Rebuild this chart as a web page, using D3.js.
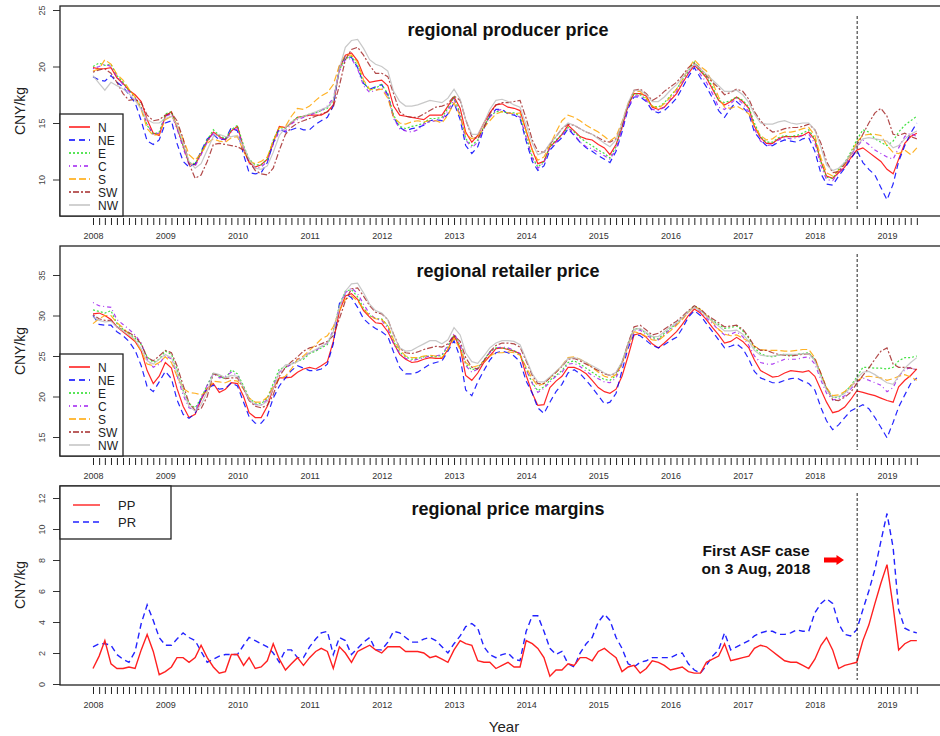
<!DOCTYPE html>
<html><head><meta charset="utf-8">
<script src="https://cdn.jsdelivr.net/npm/d3@7/dist/d3.min.js"></script>
<style>body{margin:0;background:#fff;} svg{display:block;font-family:Arial,"Liberation Sans",Helvetica,sans-serif;}</style>
</head><body><svg id="chart" width="940" height="736"></svg>
<script>
// ---------- categories ----------
const regions = ["N","NE","E","C","S","SW","NW"];
const yearLabels = [2008,2009,2010,2011,2012,2013,2014,2015,2016,2017,2018,2019];
const firstMonth = new Date(2008,0,1);   // Jan 2008
const lastMonthExclusive = new Date(2019,6,1); // through Jun 2019
const asfDate = new Date(2018,7,3);
const panelTitles = ["regional producer price","regional retailer price","regional price margins"];
const producerTicks = [10,15,20,25];
const retailTicks = [15,20,25,30,35];
const marginTicks = [0,2,4,6,8,10,12];
const marginSeries = ["PP","PR"];

// ---------- producer prices (CNY/kg), monthly Jan 2008 - Jun 2019 ----------
const producerN = [19.9,19.8,19.8,19.9,19.0,18.5,17.9,17.5,16.9,15.3,14.1,13.9,15.6,16.0,14.6,13.0,11.4,11.3,12.3,13.4,14.2,13.8,13.5,14.3,14.7,12.8,11.5,11.1,11.3,11.8,13.3,14.7,14.6,15.0,15.5,15.6,15.7,15.7,15.7,16.0,16.6,19.8,21.0,21.2,20.5,19.2,18.6,18.7,18.8,18.3,16.5,15.7,15.6,15.5,15.4,15.3,15.7,15.7,15.7,16.5,17.3,16.3,14.2,13.3,13.9,15.0,15.9,16.6,16.7,16.4,16.3,16.1,14.3,12.6,11.4,11.6,12.9,13.4,14.0,14.8,14.3,13.8,13.6,13.5,13.1,12.8,12.2,13.1,14.6,16.6,17.6,17.6,17.4,16.4,16.2,16.4,17.0,17.6,18.5,19.4,20.1,19.6,19.0,18.0,17.0,16.6,16.9,17.3,16.9,16.3,14.7,13.7,13.2,13.2,13.6,13.8,13.8,13.8,13.9,14.2,13.5,11.6,10.3,10.1,10.6,11.1,11.9,12.6,12.8,12.4,12.0,11.6,10.9,10.5,11.8,13.2,13.8,14.1];
const producerNE = [19.1,18.8,18.7,19.2,18.6,18.2,17.5,16.8,15.2,13.4,13.1,13.5,15.0,15.2,13.2,11.6,11.1,11.4,12.5,13.6,14.0,13.5,13.6,14.6,14.3,12.2,10.6,10.5,10.6,11.5,13.2,14.5,14.2,14.4,14.6,14.4,14.4,14.9,15.2,15.5,16.5,20.0,20.9,20.8,19.9,18.5,18.0,18.2,18.4,17.5,15.5,14.6,14.3,14.5,14.6,14.8,15.2,15.3,15.2,15.8,16.8,15.3,13.0,12.3,12.9,14.5,15.6,16.2,16.2,15.8,15.7,15.4,13.4,11.6,10.8,11.2,12.6,13.2,13.7,14.5,13.9,13.3,12.8,12.5,12.1,11.8,11.5,12.5,14.2,16.3,17.3,17.3,16.9,16.1,15.9,16.1,16.6,17.2,18.1,19.1,19.9,19.0,18.2,17.2,16.1,15.5,16.3,16.9,16.4,15.8,14.2,13.5,13.0,13.0,13.3,13.5,13.4,13.3,13.6,13.7,12.5,10.5,9.6,9.5,10.3,11.0,11.8,12.6,11.5,10.9,10.4,9.3,8.2,9.6,11.6,13.0,14.1,15.0];
const producerE = [20.0,20.3,20.1,20.2,19.2,18.6,17.9,17.3,16.4,14.8,14.0,14.2,15.8,16.0,14.7,13.0,11.5,11.4,12.4,13.5,14.4,13.9,13.6,14.4,14.8,13.0,11.8,11.3,11.3,11.8,13.5,14.6,14.5,15.1,15.5,15.6,15.8,15.9,16.1,16.3,17.0,19.7,20.7,20.9,20.1,18.6,17.9,18.1,18.4,17.6,15.7,14.7,14.5,14.7,14.8,15.0,15.4,15.4,15.5,16.3,17.3,15.8,13.6,13.0,13.5,14.7,15.6,16.0,16.0,15.9,15.9,15.6,13.8,12.0,11.1,11.6,12.9,13.5,14.0,14.6,14.2,13.7,13.3,13.0,12.6,12.3,11.9,12.9,14.8,16.7,17.6,17.5,17.1,16.5,16.4,16.8,17.4,18.0,18.8,19.6,20.4,19.6,19.1,18.2,17.0,16.8,17.0,17.3,17.0,16.4,15.0,13.8,13.3,13.3,13.7,13.9,13.8,13.9,14.1,14.4,13.6,11.5,10.2,10.1,10.9,11.5,12.4,13.5,14.4,14.2,13.6,13.3,13.0,13.4,14.2,14.8,15.2,15.6];
const producerC = [19.8,20.0,20.2,20.0,19.1,18.4,17.8,17.2,16.3,14.9,14.0,14.1,15.6,15.8,14.5,12.8,11.3,11.2,12.2,13.3,14.1,13.7,13.4,14.2,14.5,12.7,11.4,11.0,11.1,11.6,13.1,14.3,14.3,14.9,15.3,15.5,15.7,15.9,16.1,16.5,17.2,19.6,20.6,20.7,19.8,18.3,17.7,17.9,18.1,17.4,15.4,14.5,14.3,14.2,14.4,14.9,15.1,15.2,15.3,16.1,17.1,15.7,13.5,12.8,13.3,14.6,15.5,16.1,16.2,15.9,15.8,15.5,13.7,11.9,11.0,11.5,12.8,13.3,13.9,14.6,14.0,13.3,12.9,12.7,12.4,12.1,11.8,12.7,14.5,16.4,17.4,17.4,17.0,16.2,16.1,16.4,17.1,17.8,18.6,19.4,20.2,19.3,18.6,17.6,16.4,16.2,16.7,17.2,16.7,16.0,14.5,13.4,13.0,13.1,13.5,13.7,13.6,13.7,13.9,14.0,13.2,11.2,10.0,9.9,10.6,11.2,12.1,12.9,13.5,13.1,12.6,12.3,12.0,11.8,12.8,13.8,14.1,13.8];
const producerS = [19.6,19.8,20.6,20.2,19.3,18.8,18.0,17.3,16.2,14.5,13.9,14.0,15.3,15.6,14.9,13.6,12.2,11.7,12.3,13.2,13.6,13.4,13.3,13.7,13.8,12.5,11.6,11.4,11.6,12.0,13.4,14.6,14.7,15.6,16.3,16.2,16.5,17.0,17.4,17.7,18.4,20.1,21.0,21.0,20.4,18.8,18.0,17.9,18.0,17.2,15.5,15.0,14.9,15.1,15.2,15.1,15.2,15.2,15.0,15.7,16.8,15.6,14.0,13.6,13.8,14.6,15.2,15.8,16.0,15.9,15.8,15.9,14.3,12.6,11.7,12.0,13.0,14.2,15.2,15.7,15.5,15.2,14.8,14.5,14.2,13.8,13.4,13.8,15.1,16.7,17.8,17.8,17.2,16.5,16.3,16.7,17.3,18.0,18.8,19.8,20.6,20.0,19.6,18.6,17.3,16.4,16.3,16.5,16.2,15.8,14.7,13.9,13.5,13.6,14.0,14.2,14.2,14.3,14.5,14.6,13.9,11.9,10.6,10.3,10.8,11.3,12.2,13.3,13.9,14.0,14.0,13.9,13.0,12.4,12.3,12.6,12.2,12.8];
const producerSW = [19.5,19.7,19.8,19.4,18.6,17.6,17.0,17.1,16.8,15.7,15.2,15.3,15.7,15.9,15.2,13.6,11.4,10.1,10.4,11.6,13.1,13.2,13.1,13.0,12.9,12.6,11.6,10.8,10.5,10.4,11.0,12.6,14.0,14.6,15.0,15.2,15.4,15.6,15.8,16.0,16.4,18.3,20.6,21.5,21.7,21.0,20.1,19.4,19.4,19.1,17.6,16.0,15.6,15.5,15.5,15.8,16.1,16.4,16.5,16.7,17.4,17.0,15.3,13.8,13.6,14.6,15.8,16.6,16.8,16.8,16.9,17.0,15.4,13.5,12.5,12.4,13.1,13.8,14.5,14.9,14.8,14.5,14.2,14.0,13.7,13.4,13.3,13.6,14.8,16.6,17.9,18.0,17.6,17.0,17.3,17.8,18.2,18.6,19.2,19.9,20.3,19.8,19.2,18.6,18.1,17.5,17.7,18.0,17.8,17.1,16.0,15.2,14.6,14.2,14.3,14.5,14.6,14.6,14.7,14.9,14.4,13.2,11.6,10.6,10.7,11.4,12.2,13.0,14.0,15.0,15.9,16.3,15.6,14.0,13.9,14.1,13.8,13.6];
const producerNW = [19.2,18.5,17.9,18.6,18.3,18.0,17.6,17.0,16.2,15.3,15.0,15.0,15.4,15.6,14.8,13.2,11.6,11.0,11.4,12.6,13.8,14.0,13.8,13.8,13.9,12.9,11.8,11.0,10.9,11.2,12.4,13.9,14.6,15.1,15.4,15.6,15.8,16.0,16.2,16.4,17.0,19.8,21.7,22.3,22.4,21.6,20.6,20.2,20.0,19.6,17.8,16.9,16.5,16.5,16.6,16.8,17.0,16.9,16.8,17.2,18.0,17.1,15.3,14.0,14.0,15.0,16.2,17.0,17.1,16.9,16.6,16.4,14.8,13.2,12.2,12.4,13.2,13.8,14.5,15.0,14.8,14.5,14.2,14.0,13.6,13.2,12.9,13.5,15.0,16.8,17.9,17.9,17.5,16.9,16.9,17.3,17.9,18.4,19.0,19.7,20.2,19.8,19.3,18.8,18.3,17.8,17.8,17.9,17.5,16.8,15.8,15.0,14.9,14.9,15.1,15.2,15.0,14.9,15.0,15.0,14.4,12.8,11.3,10.8,11.0,11.5,12.2,13.0,13.6,13.7,13.6,13.5,13.4,12.8,13.0,13.6,14.0,14.3];

// ---------- retailer prices (CNY/kg) ----------
const retailN = [30.2,30.3,30.0,29.5,28.6,28.0,27.4,26.8,25.6,23.2,21.6,22.5,24.2,23.5,21.0,18.8,17.4,17.8,19.6,21.0,21.6,20.5,20.9,21.7,21.6,20.0,18.0,17.4,17.4,18.8,21.0,22.3,22.3,22.4,23.0,23.4,23.6,23.4,23.8,24.3,26.8,30.5,32.4,32.7,32.0,30.6,29.8,29.1,29.0,28.0,26.6,25.2,24.6,24.2,24.3,24.6,24.8,24.7,24.7,25.8,27.5,26.0,22.6,22.0,22.9,24.2,25.0,25.9,26.0,25.8,25.6,25.3,22.6,20.4,18.9,19.0,21.1,21.9,22.5,23.6,23.6,23.3,22.8,22.0,21.1,20.6,20.4,20.9,22.5,25.0,27.6,27.8,27.3,26.5,26.0,26.6,27.3,28.0,28.9,30.0,30.8,30.3,29.5,28.5,27.6,26.6,26.8,27.3,26.8,26.0,24.5,23.2,22.8,22.4,22.5,22.9,23.2,23.1,23.0,23.2,22.5,20.8,19.3,18.0,18.2,18.7,19.6,20.7,20.5,20.3,20.1,19.8,19.5,19.3,21.2,22.0,22.6,23.4];
const retailNE = [30.0,28.9,28.8,28.8,28.0,27.5,26.8,25.7,23.8,21.2,20.6,21.8,23.1,22.2,19.6,17.8,17.3,17.9,19.8,21.0,21.4,20.9,21.0,21.7,21.3,19.3,17.5,16.7,16.7,17.6,19.8,21.3,22.3,23.2,23.8,23.5,23.2,23.2,23.4,24.0,26.5,31.5,32.7,32.2,31.0,29.6,28.9,28.4,28.0,27.4,25.5,23.6,22.8,22.8,23.0,23.5,24.0,24.2,24.4,25.6,26.9,24.8,20.8,20.1,21.8,23.2,24.5,25.4,25.6,25.4,25.0,24.3,21.9,20.4,18.6,17.9,19.3,20.6,21.5,22.9,23.3,22.8,22.0,21.1,20.1,19.1,19.3,20.4,23.2,26.0,27.7,27.5,26.9,26.3,26.0,26.4,26.9,27.3,28.4,29.8,30.6,30.0,29.0,28.0,27.0,26.0,26.2,26.5,25.9,24.6,23.1,22.3,22.0,21.7,21.7,22.0,22.2,22.3,21.9,21.6,20.8,18.6,17.0,15.9,16.5,17.4,18.2,18.6,19.0,18.5,17.4,16.2,14.9,16.8,18.7,20.2,21.6,22.3];
const retailE = [30.7,30.5,30.3,30.6,29.0,28.3,27.8,27.2,26.4,24.9,24.2,24.6,25.6,25.2,23.4,20.8,19.1,18.6,19.8,21.4,22.9,22.5,22.2,23.3,22.8,21.3,19.8,19.2,19.1,19.8,21.6,23.4,23.6,24.0,24.4,24.6,25.3,25.6,26.0,26.4,28.1,31.2,33.0,33.2,32.3,30.9,30.0,29.6,29.6,28.7,26.8,25.5,24.9,24.6,24.7,24.9,25.0,24.9,25.1,26.2,27.6,26.3,24.0,23.3,23.5,24.5,25.5,26.0,26.0,25.9,25.6,25.2,23.4,21.7,20.7,21.2,22.0,22.6,23.2,24.2,24.4,24.0,23.5,23.0,22.5,22.1,22.0,22.6,24.2,26.5,28.4,28.3,27.8,27.3,27.1,27.8,28.4,29.0,29.7,30.5,31.2,30.7,30.0,29.4,28.9,28.4,28.5,28.7,28.1,27.2,26.0,25.3,25.0,24.9,25.1,25.2,25.1,25.2,25.3,25.4,24.5,22.7,21.0,19.9,19.9,20.5,21.3,22.4,23.6,23.6,23.5,23.5,23.4,23.6,24.4,24.8,24.8,25.0];
const retailC = [31.6,31.2,31.1,31.0,29.5,28.9,28.3,27.6,26.6,24.6,23.6,24.0,25.1,24.6,22.6,20.2,18.6,18.3,19.7,21.4,22.8,22.3,22.5,23.0,22.6,21.0,19.5,19.0,19.0,19.6,21.3,23.0,23.5,24.0,24.6,24.9,25.4,25.7,26.1,26.6,28.2,31.0,32.8,33.4,32.7,31.4,30.2,29.6,29.4,28.4,26.5,25.3,24.7,24.4,24.6,24.8,25.0,25.0,25.2,26.3,27.8,26.4,23.8,23.0,23.4,24.4,25.4,26.0,26.1,26.0,25.7,25.3,23.3,21.6,20.5,21.0,21.8,22.5,23.0,24.0,24.1,23.7,23.1,22.6,22.2,21.8,21.7,22.3,24.0,26.3,28.2,28.2,27.6,27.1,27.0,27.6,28.3,28.9,29.6,30.4,31.1,30.5,29.7,29.0,28.2,27.6,27.7,28.0,27.4,26.3,25.0,24.2,24.0,24.0,24.3,24.6,24.6,24.6,24.8,24.9,24.0,22.0,20.4,19.6,19.7,20.1,20.9,21.8,22.3,22.0,21.7,21.4,20.6,21.1,22.5,23.3,23.6,23.2];
const retailS = [29.0,29.6,30.0,30.0,29.1,28.5,27.7,26.9,25.6,24.0,23.8,24.2,24.9,24.2,22.5,21.0,20.5,20.4,20.2,20.6,21.9,21.8,21.7,22.0,21.9,20.9,19.8,19.3,19.3,19.9,21.2,22.2,22.5,23.4,24.6,25.0,25.7,26.4,27.1,27.5,28.6,30.6,32.0,32.4,31.8,30.8,30.0,29.6,29.5,28.8,27.0,25.8,25.0,24.8,24.8,25.0,25.1,25.0,24.8,25.8,27.2,25.8,24.2,23.6,23.8,24.3,25.0,25.4,25.4,25.5,25.4,25.1,23.6,22.2,21.3,21.6,22.3,23.0,23.8,24.8,24.9,24.6,24.2,23.6,23.0,22.5,22.3,22.7,24.0,26.3,28.0,27.8,27.4,27.0,26.9,27.5,28.1,28.8,29.5,30.4,31.1,30.7,30.0,29.2,28.3,27.7,27.5,27.6,27.2,26.8,26.2,25.8,25.7,25.7,25.7,25.6,25.6,25.7,25.8,25.8,24.8,22.8,21.1,20.1,20.2,20.6,21.3,21.9,22.4,22.5,22.4,22.3,22.0,22.2,22.5,22.7,22.4,22.0];
const retailSW = [30.1,29.6,29.4,29.4,28.6,28.2,27.9,27.4,26.5,24.8,24.4,25.0,25.7,25.4,23.8,21.4,19.2,18.3,18.5,20.0,22.8,22.6,22.2,22.3,22.3,21.0,19.5,18.8,18.6,18.9,20.2,22.5,23.6,24.3,24.9,25.6,26.0,26.2,26.5,26.8,27.5,29.6,31.8,33.3,33.4,32.4,31.2,30.4,30.2,29.5,27.7,26.0,25.4,25.3,25.5,25.8,26.0,26.2,26.1,26.5,27.5,26.8,24.8,23.6,23.4,24.4,25.5,26.3,26.6,26.6,26.5,26.1,24.4,22.6,21.6,21.6,22.3,23.0,23.7,24.6,24.7,24.4,24.0,23.6,23.2,22.8,22.6,22.9,24.2,26.6,28.6,28.8,28.2,27.6,27.8,28.3,28.8,29.3,29.9,30.6,31.2,30.8,30.1,29.6,29.1,28.6,28.7,28.8,28.3,27.3,26.2,25.7,25.7,25.4,25.2,25.1,25.0,25.1,25.2,25.3,24.6,22.8,21.0,19.6,19.5,19.9,20.5,21.6,22.6,23.5,24.6,25.6,26.0,24.0,23.6,23.6,23.5,23.3];
const retailNW = [29.8,29.4,29.2,29.3,28.6,28.1,27.6,27.0,25.9,24.4,24.0,24.6,25.2,24.8,23.0,20.6,18.8,18.2,19.0,20.6,22.9,22.7,22.3,22.6,22.5,21.1,19.6,19.0,18.9,19.4,21.0,23.0,23.9,24.0,24.3,24.8,25.4,25.8,26.2,26.6,28.0,31.0,33.0,33.9,34.0,32.8,31.4,30.6,30.3,29.5,27.6,26.0,25.6,25.7,26.1,26.5,26.9,26.9,26.5,27.0,28.5,27.6,25.4,24.3,24.1,25.0,26.0,26.6,26.9,26.9,26.8,26.4,24.6,22.8,21.8,21.8,22.4,23.1,23.8,24.7,24.8,24.6,24.2,23.8,23.4,22.9,22.6,23.0,24.3,26.4,28.3,28.4,27.9,27.4,27.4,28.0,28.6,29.1,29.7,30.5,31.0,30.6,29.9,29.3,28.7,28.1,28.1,28.2,27.7,26.8,25.7,25.1,25.0,25.0,25.1,25.2,25.2,25.2,25.3,25.3,24.4,22.4,20.8,19.9,20.0,20.4,21.1,22.2,23.0,23.1,22.7,22.2,21.7,21.5,22.5,23.5,24.2,24.8];

// ---------- price margins (CNY/kg) ----------
const marginPP = [1.0,1.8,2.8,1.3,1.0,1.0,1.1,1.0,2.2,3.2,2.1,0.6,0.8,1.1,1.7,1.7,1.4,1.7,2.5,1.7,1.1,0.7,0.8,1.9,1.9,1.2,1.7,1.0,1.1,1.5,2.6,1.6,0.9,1.3,1.7,1.2,1.7,2.1,2.3,2.1,1.0,2.4,2.0,1.4,2.1,2.3,2.5,2.2,2.0,2.4,2.4,2.4,2.1,2.1,2.1,2.0,1.7,1.8,1.6,1.4,2.2,2.8,2.6,2.5,1.5,1.4,1.4,1.0,1.2,1.4,1.1,1.1,2.8,2.6,2.3,1.7,0.5,0.9,0.9,1.3,1.2,1.7,1.7,1.5,2.1,2.3,2.0,1.7,0.8,1.1,1.2,0.7,1.0,1.5,1.4,1.2,0.9,1.0,1.1,0.8,0.7,0.7,1.4,1.6,1.8,2.6,1.5,1.6,1.7,1.8,2.3,2.5,2.4,2.1,1.8,1.5,1.4,1.4,1.2,1.0,1.6,2.5,3.0,2.2,1.0,1.2,1.3,1.4,2.8,3.8,5.2,6.5,7.7,5.0,2.2,2.6,2.8,2.8];
const marginPR = [2.4,2.6,2.6,2.5,1.9,1.6,1.4,2.1,3.9,5.1,4.1,3.0,2.5,2.5,2.9,3.3,3.0,2.8,2.1,1.4,1.6,1.8,1.9,1.9,1.9,2.5,3.0,2.8,2.6,2.4,2.0,1.4,2.2,2.2,1.7,1.7,2.4,2.9,3.3,3.4,1.9,3.0,2.8,1.9,2.3,2.7,3.0,2.2,2.2,2.7,3.4,3.3,3.0,2.7,2.7,2.9,3.0,2.8,2.4,2.0,2.6,3.1,3.7,3.9,3.6,2.4,1.9,1.7,1.9,2.0,1.6,1.5,3.4,4.4,4.4,3.4,2.3,1.9,2.1,1.3,1.1,2.0,2.6,3.0,4.0,4.5,4.1,3.0,2.3,1.3,1.1,1.4,1.5,1.7,1.7,1.7,1.7,1.9,2.0,1.3,0.9,0.7,1.2,1.8,2.2,3.3,2.2,2.4,2.6,2.8,3.1,3.3,3.4,3.4,3.2,3.2,3.3,3.5,3.4,3.4,4.6,5.2,5.5,5.2,3.9,3.2,3.1,3.5,4.8,6.0,7.4,9.2,11.0,8.8,4.8,3.6,3.4,3.3];

// ---------- drawing ----------
const svg = d3.select("#chart");
const months = d3.timeMonth.range(firstMonth, lastMonthExclusive);
const x = d3.scaleTime().domain([new Date(2008,0,1), new Date(2019,0,1)]).range([93, 887]);
const boxLeft = 60, boxRight = 941;

const styles = {
  N:  {color:"#ff0000", dash:null},
  NE: {color:"#0000ff", dash:"6,4"},
  E:  {color:"#22dd22", dash:"2,2"},
  C:  {color:"#a020f0", dash:"1,3,4,3"},
  S:  {color:"#ffa500", dash:"7,3"},
  SW: {color:"#a52a2a", dash:"2,2,6,2"},
  NW: {color:"#bebebe", dash:null}
};
const producer = {N:producerN,NE:producerNE,E:producerE,C:producerC,S:producerS,SW:producerSW,NW:producerNW};
const retail = {N:retailN,NE:retailNE,E:retailE,C:retailC,S:retailS,SW:retailSW,NW:retailNW};

const panels = [
  {top:6, bottom:216, dom:[10,25], rng:[179.5,10], ticks:producerTicks, title:panelTitles[0], titleY:36, ylabY:111, vl:[16,211]},
  {top:246, bottom:456, dom:[15,35], rng:[437,275], ticks:retailTicks, title:panelTitles[1], titleY:277, ylabY:351, vl:[254,450]},
  {top:486, bottom:685, dom:[0,12], rng:[684,498], ticks:marginTicks, title:panelTitles[2], titleY:515, ylabY:585, vl:[493,680]}
];

function drawAxes(p, y){
  // x axis: monthly ticks, year labels
  const xa = d3.axisBottom(x).tickValues(months).tickSize(7)
    .tickFormat(d => d.getMonth()===0 ? d3.timeFormat("%Y")(d) : "");
  const gx = svg.append("g").attr("transform", `translate(0,${p.bottom+2})`).call(xa);
  gx.select(".domain").remove();
  gx.selectAll(".tick line").attr("stroke","#222").attr("stroke-width",1);
  gx.selectAll(".tick text").attr("y",15).attr("dy","0.71em").attr("font-size",9).attr("fill","#333").attr("font-family","Arial, 'Liberation Sans', sans-serif");
  // y axis
  const ya = d3.axisLeft(y).tickValues(p.ticks).tickSize(7);
  const gy = svg.append("g").attr("transform", `translate(${boxLeft},0)`).call(ya);
  gy.select(".domain").remove();
  gy.selectAll(".tick line").attr("stroke","#333");
  gy.selectAll(".tick text").attr("transform","rotate(-90)").attr("x",0).attr("y",-15).attr("dy",0)
    .attr("text-anchor","middle").attr("font-size",9).attr("fill","#444").attr("font-family","Arial, 'Liberation Sans', sans-serif");
  // box
  svg.append("rect").attr("x",boxLeft).attr("y",p.top).attr("width",boxRight-boxLeft).attr("height",p.bottom-p.top)
    .attr("fill","none").attr("stroke","#222").attr("stroke-width",1.3);
  // y label
  svg.append("text").attr("transform",`translate(25,${p.ylabY}) rotate(-90)`).attr("text-anchor","middle")
    .attr("font-size",14).attr("fill","#222").text("CNY/kg");
  // title
  svg.append("text").attr("x",508).attr("y",p.titleY).attr("text-anchor","middle")
    .attr("font-size",18).attr("font-weight","bold").attr("fill","#111").text(p.title);
  // ASF line
  svg.append("line").attr("x1",x(asfDate)).attr("x2",x(asfDate)).attr("y1",p.vl[0]).attr("y2",p.vl[1])
    .attr("stroke","#222").attr("stroke-width",1).attr("stroke-dasharray","3,2");
}

function drawRegional(p, data){
  const y = d3.scaleLinear().domain(p.dom).range(p.rng);
  const line = d3.line().x((d,i)=>x(months[i])).y(d=>y(d));
  regions.forEach(r=>{
    svg.append("path").datum(data[r]).attr("d",line).attr("fill","none")
      .attr("stroke",styles[r].color).attr("stroke-width",1.2).attr("stroke-opacity",0.85)
      .attr("stroke-dasharray",styles[r].dash);
  });
  drawAxes(p, y);
  // legend
  const lgTop = p.top + 108;
  svg.append("rect").attr("x",boxLeft).attr("y",lgTop).attr("width",63).attr("height",p.bottom-lgTop)
    .attr("fill","#fff").attr("stroke","#222").attr("stroke-width",1.3);
  regions.forEach((r,k)=>{
    const yy = lgTop + 13 + k*13;
    svg.append("line").attr("x1",69).attr("x2",90).attr("y1",yy).attr("y2",yy)
      .attr("stroke",styles[r].color).attr("stroke-width",1.4).attr("stroke-dasharray",styles[r].dash);
    svg.append("text").attr("x",98).attr("y",yy+4.5).attr("font-size",12).attr("fill","#222").text(r);
  });
}

drawRegional(panels[0], producer);
drawRegional(panels[1], retail);

// margins panel
(function(){
  const p = panels[2];
  const y = d3.scaleLinear().domain(p.dom).range(p.rng);
  const line = d3.line().x((d,i)=>x(months[i])).y(d=>y(d));
  svg.append("path").datum(marginPR).attr("d",line).attr("fill","none")
    .attr("stroke","#2222ff").attr("stroke-width",1.4).attr("stroke-dasharray","6,4");
  svg.append("path").datum(marginPP).attr("d",line).attr("fill","none")
    .attr("stroke","#ff2020").attr("stroke-width",1.4);
  drawAxes(p, y);
  svg.append("rect").attr("x",boxLeft).attr("y",p.top).attr("width",111).attr("height",53)
    .attr("fill","#fff").attr("stroke","#222").attr("stroke-width",1.3);
  const lg = [{k:"PP",c:"#ff2020",d:null},{k:"PR",c:"#2222ff",d:"6,4"}];
  lg.forEach((e,i)=>{
    const yy = 505 + i*17;
    svg.append("line").attr("x1",73).attr("x2",100).attr("y1",yy).attr("y2",yy)
      .attr("stroke",e.c).attr("stroke-width",1.4).attr("stroke-dasharray",e.d);
    svg.append("text").attr("x",118).attr("y",yy+5).attr("font-size",13).attr("fill","#222").text(marginSeries[i]);
  });
  // annotation
  svg.append("text").attr("x",756).attr("y",556).attr("text-anchor","middle").attr("font-size",15.5)
    .attr("font-weight","bold").attr("fill","#111").text("First ASF case");
  svg.append("text").attr("x",756).attr("y",574).attr("text-anchor","middle").attr("font-size",15.5)
    .attr("font-weight","bold").attr("fill","#111").text("on 3 Aug, 2018");
  svg.append("path").attr("d","M824,557.5 L836.5,557.5 L836.5,555 L844,560 L836.5,565 L836.5,562.5 L824,562.5 Z")
    .attr("fill","#ff0000");
  // x label
  svg.append("text").attr("x",504).attr("y",732).attr("text-anchor","middle").attr("font-size",15)
    .attr("fill","#222").text("Year");
})();
</script></body></html>
